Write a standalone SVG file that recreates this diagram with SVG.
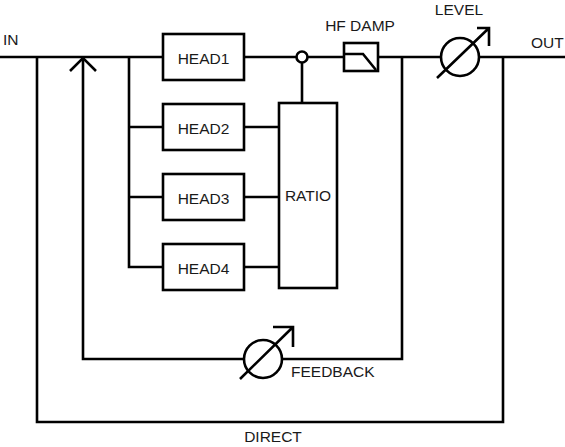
<svg xmlns="http://www.w3.org/2000/svg" width="565" height="447" viewBox="0 0 565 447">
<style>
.w{fill:none;stroke:#000;stroke-width:2.6;stroke-linejoin:miter;stroke-linecap:butt}
.b{fill:#fff;stroke:#000;stroke-width:2.6}
text{font-family:"Liberation Sans",Arial,sans-serif;font-size:15.5px;fill:#1a1a1a}
.m{text-anchor:middle}
</style>
<rect width="565" height="447" fill="#fff"/>
<g id="connectors" class="w">
<path d="M0,57 H565"/>
<path d="M402,57 V359 H83 V58"/>
<path d="M70,71 L83,58 L96,71"/>
<path d="M37,57 V422 H503 V57"/>
<path d="M129,57 V267 H163 M129,127 H163 M129,197 H163"/>
<path d="M244,127 H279 M244,197 H279 M244,267 H279"/>
<path d="M302,62 V103"/>
</g>
<g id="in"><text x="3" y="45">IN</text></g>
<g id="out"><text x="531" y="48">OUT</text></g>
<g id="head1"><rect class="b" x="163" y="34" width="81" height="46"/><text class="m" x="203.5" y="64">HEAD1</text></g>
<g id="head2"><rect class="b" x="163" y="104" width="81" height="46"/><text class="m" x="203.5" y="134">HEAD2</text></g>
<g id="head3"><rect class="b" x="163" y="174" width="81" height="46"/><text class="m" x="203.5" y="204">HEAD3</text></g>
<g id="head4"><rect class="b" x="163" y="244" width="81" height="46"/><text class="m" x="203.5" y="274">HEAD4</text></g>
<g id="junction"><circle class="b" cx="302" cy="57" r="5.5"/></g>
<g id="ratio"><rect class="b" x="279" y="103" width="58" height="185"/><text class="m" x="308" y="201">RATIO</text></g>
<g id="hfdamp"><rect class="b" x="344" y="43" width="34" height="28"/><path class="w" d="M344,54 H363 L376,70"/><text class="m" x="360" y="31">HF DAMP</text></g>
<g id="level"><circle class="b" cx="460" cy="57" r="19"/><path class="w" d="M437,78 L489,28 M477,28 H489 V46"/><text class="m" x="459" y="15">LEVEL</text></g>
<g id="feedback"><circle class="b" cx="263" cy="359" r="19"/><path class="w" d="M240,379 L293,327 M273,327 H293 V347"/><text x="291" y="377">FEEDBACK</text></g>
<g id="direct"><text class="m" x="273" y="442">DIRECT</text></g>
</svg>
